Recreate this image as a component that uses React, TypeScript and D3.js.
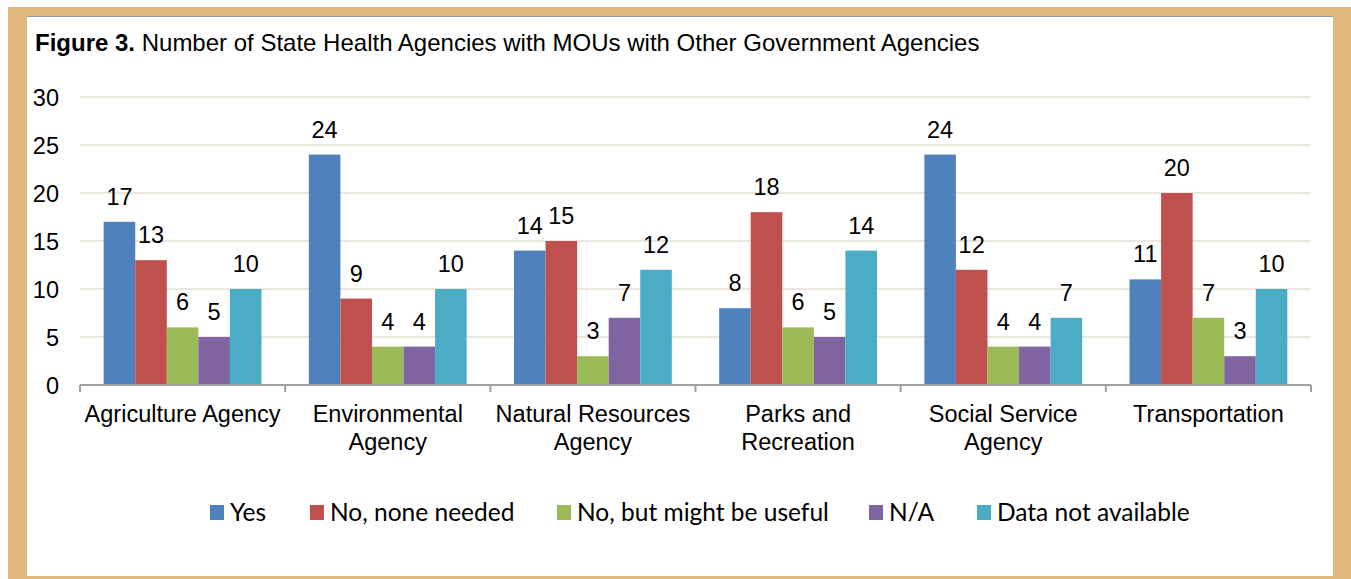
import React from "react";
import * as d3 from "d3";

const categories = [
  ["Agriculture Agency"],
  ["Environmental", "Agency"],
  ["Natural Resources", "Agency"],
  ["Parks and", "Recreation"],
  ["Social Service", "Agency"],
  ["Transportation"],
];
const seriesNames = ["Yes", "No, none needed", "No, but might be useful", "N/A", "Data not available"];
const seriesColors = ["#4f81bd", "#c0504d", "#9bbb59", "#8064a2", "#4bacc6"];
const yesValues = [17, 24, 14, 8, 24, 11];
const noneNeededValues = [13, 9, 15, 18, 12, 20];
const mightBeUsefulValues = [6, 4, 3, 6, 4, 7];
const naValues = [5, 4, 7, 5, 4, 3];
const dataNotAvailableValues = [10, 10, 12, 14, 7, 10];
const seriesValues = [yesValues, noneNeededValues, mightBeUsefulValues, naValues, dataNotAvailableValues];
const yTicks = [0, 5, 10, 15, 20, 25, 30];
const legendX = [210, 310, 557, 869, 977];

export default function App() {
  const W = 1351, H = 579;
  const left = 80, right = 1311, top = 97, bottom = 385;
  const catIdx = categories.map((_, i) => String(i));
  const x0 = d3.scaleBand<string>().domain(catIdx).range([left, right]).padding(0);
  const x1 = d3.scaleBand<string>().domain(seriesNames).range([0, x0.bandwidth()]).paddingInner(0).paddingOuter(0.75);
  const y = d3.scaleLinear().domain([0, 30]).range([bottom, top]);
  const font = "Arial, 'Liberation Sans', sans-serif";
  const boundaries = catIdx.map((c) => x0(c)!).concat([right]);

  return (
    <svg width={W} height={H} style={{ position: "absolute", left: 0, top: 0 }} fontFamily={font}>
      <rect x={0} y={0} width={W} height={H} fill="#fff" />
      <rect x={8} y={7} width={W - 8} height={H - 7} fill="#e0b87b" />
      <rect x={27} y={17} width={1306} height={559} fill="#fff" />
      <line x1={27} x2={1333} y1={16.5} y2={16.5} stroke="#8c9aa8" strokeWidth={1} />
      <text x={35} y={51} fontSize={24} fill="#000">
        <tspan fontWeight="bold">Figure 3.</tspan>
        <tspan> Number of State Health Agencies with MOUs with Other Government Agencies</tspan>
      </text>
      {yTicks.map((t) => (
        <g key={t}>
          {t > 0 && <line x1={left} x2={right} y1={y(t)} y2={y(t)} stroke="#ebe7de" strokeWidth={2} />}
          <text x={59} y={y(t) + 8.5} fontSize={23.5} textAnchor="end" fill="#000">{t}</text>
        </g>
      ))}
      {seriesValues.map((vals, si) => (
        <g key={si}>
          {vals.map((v, ci) => {
            const bx = x0(String(ci))! + x1(seriesNames[si])!;
            const bw = x1.bandwidth();
            return (
              <g key={ci}>
                <rect x={bx} y={y(v)} width={bw} height={bottom - y(v)} fill={seriesColors[si]} />
                <text x={bx + bw / 2} y={y(v) - 17} fontSize={23.5} textAnchor="middle" fill="#000">{v}</text>
              </g>
            );
          })}
        </g>
      ))}
      <line x1={left} x2={right} y1={bottom} y2={bottom} stroke="#a0a0a0" strokeWidth={2} />
      {boundaries.map((bx, i) => (
        <line key={i} x1={bx} x2={bx} y1={bottom} y2={bottom + 7} stroke="#a0a0a0" strokeWidth={2} />
      ))}
      {categories.map((lines, ci) => (
        <text key={ci} x={x0(String(ci))! + x0.bandwidth() / 2} fontSize={23.5} textAnchor="middle" fill="#000">
          {lines.map((ln, li) => (
            <tspan key={li} x={x0(String(ci))! + x0.bandwidth() / 2} y={422 + li * 28}>{ln}</tspan>
          ))}
        </text>
      ))}
      {seriesNames.map((n, i) => (
        <g key={n}>
          <rect x={legendX[i]} y={505} width={14} height={15} fill={seriesColors[i]} />
          <text x={legendX[i] + 20} y={521} fontSize={24.5} fontFamily="Lato, 'Open Sans', sans-serif" fill="#000">{n}</text>
        </g>
      ))}
    </svg>
  );
}
